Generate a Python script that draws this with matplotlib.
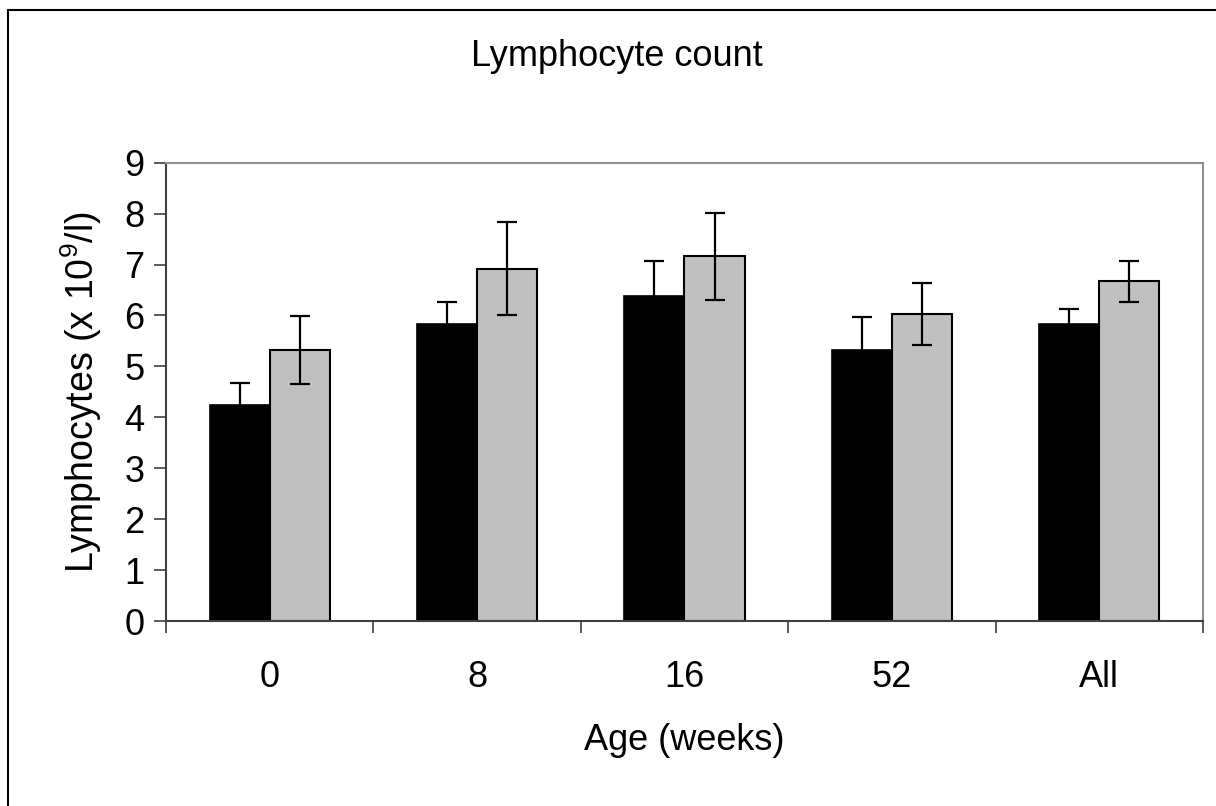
import numpy as np
import matplotlib.pyplot as plt
from matplotlib.patches import Rectangle

plt.rcParams['font.family'] = ['Liberation Sans', 'DejaVu Sans']
plt.rcParams['mathtext.fontset'] = 'custom'
plt.rcParams['mathtext.rm'] = 'Liberation Sans'

# Data
ages = ['0', '8', '16', '52', 'All']
black_vals = [4.24, 5.84, 6.38, 5.33, 5.84]
black_err = [0.43, 0.43, 0.69, 0.64, 0.28]
gray_vals = [5.32, 6.92, 7.16, 6.03, 6.67]
gray_err = [0.67, 0.92, 0.85, 0.60, 0.40]

fig = plt.figure(figsize=(12.16, 8.06), dpi=100)
ax = fig.add_axes([0.1365, 0.2295, 0.8528, 0.5686])

x = np.arange(len(ages)) + 0.5
w = 0.29
ekw = dict(ecolor='black', elinewidth=1.6, capsize=7, capthick=1.6, zorder=3)

ax.bar(x - w / 2, black_vals, w, color='black', edgecolor='black', linewidth=1.2,
       yerr=black_err, error_kw=ekw)
ax.bar(x + w / 2, gray_vals, w, color='#c0c0c0', edgecolor='black', linewidth=1.5,
       yerr=gray_err, error_kw=ekw)

ax.set_xlim(0, len(ages))
ax.set_ylim(0, 9)
ax.set_yticks(range(10))

# group boundary ticks, labels in the middle
ax.set_xticks(range(len(ages) + 1))
ax.set_xticklabels([])
ax.set_xticks(x, minor=True)
ax.set_xticklabels(ages, minor=True, fontsize=26)
ax.tick_params(axis='x', which='minor', length=0, pad=28)
ax.tick_params(axis='x', which='major', length=8.6, width=1.2, color='#404040')
ax.tick_params(axis='y', length=8.6, width=1.2, color='#404040', labelsize=26, pad=7)

for s in ['left', 'bottom']:
    ax.spines[s].set_color('#404040')
    ax.spines[s].set_linewidth(1.5)
for s in ['top', 'right']:
    ax.spines[s].set_color('#909090')
    ax.spines[s].set_linewidth(1.5)

ax.set_xlabel('Age (weeks)', fontsize=26)
ax.xaxis.label.set_verticalalignment('center')
ax.xaxis.set_label_coords(0.5, -0.26)
ax.set_ylabel(r'Lymphocytes (x 10$^{9}$/l)', fontsize=27)
ax.yaxis.label.set_verticalalignment('center')
ax.yaxis.set_label_coords(-0.082, 0.5)

fig.text(617 / 1216, 1 - 56 / 806, 'Lymphocyte count', fontsize=26,
         ha='center', va='center')

# outer chart border (right and bottom sides fall outside the image)
fig.add_artist(Rectangle((8 / 1216, -0.1), 1.2, 1.1 - 10 / 806, transform=fig.transFigure,
                         fill=False, edgecolor='black', linewidth=1.5))

fig.savefig('out.png', dpi=100)
